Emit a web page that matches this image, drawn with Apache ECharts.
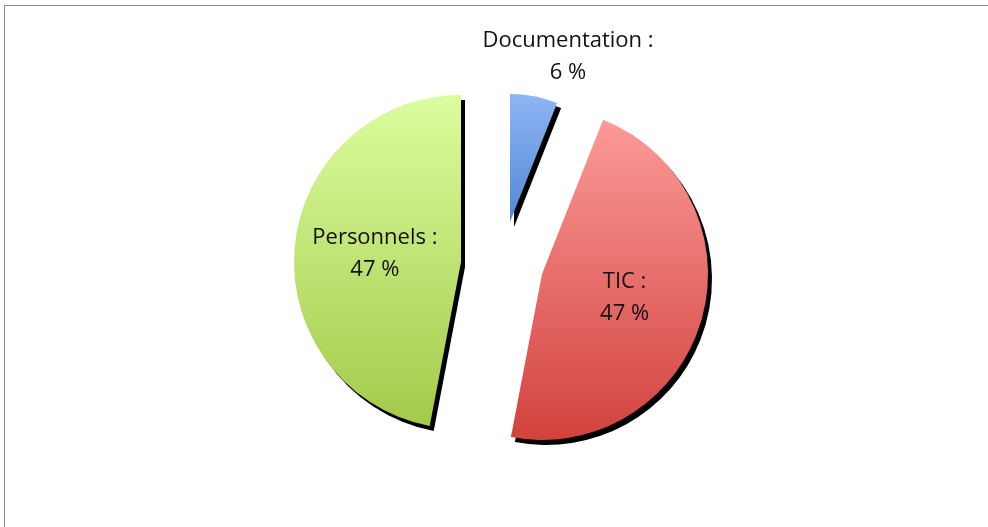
<!DOCTYPE html>
<html>
<head>
<meta charset="utf-8">
<script src="https://cdn.jsdelivr.net/npm/echarts@6/dist/echarts.min.js"></script>
<style>
  html, body { margin: 0; padding: 0; background: #fff; overflow: hidden; }
  .frame {
    position: absolute; left: 4px; top: 5px; width: 1200px; height: 800px;
    border-left: 1px solid #8c8c8c; border-top: 1px solid #8c8c8c;
  }
  #chart { position: absolute; left: 0; top: 0; width: 988px; height: 527px; }
</style>
</head>
<body>
<div class="frame"></div>
<div id="chart"></div>
<script>
// slices, clockwise from 12 o'clock
var names = ["Documentation", "TIC", "Personnels"];
var values = [6, 47, 47];
var topColors = ["#8fb5f3", "#fb9a98", "#dcfd9e"];
var bottomColors = ["#5088d5", "#d2423d", "#a3ca4a"];

// each slice is exploded on its own, so one pie series per slice
var centers = [[510, 222], [542, 274], [461, 262]];
var radii = [128, 166, 167];

var chart = echarts.init(document.getElementById("chart"));

function makeSeries(k) {
  var data = names.map(function (n, i) {
    var item = { name: n, value: values[i] };
    if (i === k) {
      item.itemStyle = {
        color: new echarts.graphic.LinearGradient(0, 0, 0, 1, [
          { offset: 0, color: topColors[i] },
          { offset: 1, color: bottomColors[i] }
        ]),
        shadowColor: "#000",
        shadowOffsetX: 4,
        shadowOffsetY: 5,
        shadowBlur: 0
      };
    } else {
      item.itemStyle = { color: "rgba(0,0,0,0)" };
      item.label = { show: false };
      item.emphasis = { disabled: true };
    }
    return item;
  });
  var s = {
    type: "pie",
    center: centers[k],
    radius: radii[k],
    startAngle: 90,
    clockwise: true,
    percentPrecision: 0,
    silent: true,
    animation: false,
    label: {
      show: true,
      position: "inside",
      formatter: "{b} :\n{d} %",
      fontFamily: "Open Sans",
      fontSize: 22,
      lineHeight: 32,
      color: "#111"
    },
    labelLine: { show: false },
    data: data
  };
  if (k === 0) {
    s.labelLayout = function () {
      return { x: 568, y: 57, align: "center", verticalAlign: "middle" };
    };
  }
  return s;
}

chart.setOption({
  backgroundColor: "transparent",
  series: [makeSeries(2), makeSeries(1), makeSeries(0)]
});
</script>
</body>
</html>
